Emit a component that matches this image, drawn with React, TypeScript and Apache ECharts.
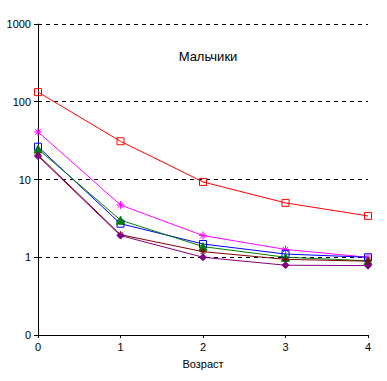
import React, { useEffect, useRef } from "react";
import * as echarts from "echarts";

const ages = [0, 1, 2, 3, 4];
const redValues = [133, 31, 9.3, 5.0, 3.4];
const magentaValues = [41, 4.7, 1.9, 1.26, 1.0];
const blueValues = [26.4, 2.7, 1.48, 1.1, 1.0];
const greenValues = [24.7, 3.0, 1.37, 1.0, 0.9];
const maroonValues = [20.7, 1.95, 1.18, 0.94, 0.89];
const purpleValues = [20, 1.9, 1.0, 0.79, 0.78];
const yTickLabels: Record<string, string> = { "0.1": "0", "1": "1", "10": "10", "100": "100", "1000": "1000" };
const title = "Мальчики";
const xName = "Возраст";

const asterisk = "path://M5,0L5,10M0,5L10,5M1.5,1.5L8.5,8.5M8.5,1.5L1.5,8.5";

function mk(name: string, values: number[], color: string, symbol: string, size: number, filled: boolean) {
  return {
    name,
    type: "line",
    data: ages.map((a, i) => [a, values[i]]),
    symbol,
    symbolSize: size,
    showSymbol: true,
    lineStyle: { color, width: 1 },
    itemStyle: filled
      ? { color, borderColor: color, borderWidth: 1 }
      : { color: symbol.startsWith("path") ? color : "rgba(0,0,0,0)", borderColor: color, borderWidth: 1 },
    emphasis: { disabled: true },
  };
}

export default function App() {
  const ref = useRef<HTMLDivElement>(null);
  useEffect(() => {
    const chart = echarts.init(ref.current!, null, { renderer: "svg" });
    chart.setOption({
      animation: false,
      backgroundColor: "#ffffff",
      textStyle: { fontFamily: "Liberation Sans, Arial, sans-serif" },
      grid: { left: 38, top: 24, right: 19, bottom: 46, containLabel: false },
      title: {
        text: title,
        left: 203,
        top: 45,
        textAlign: "center",
        textStyle: { fontSize: 13, fontWeight: "normal", color: "#000", fontFamily: "Liberation Sans, Arial, sans-serif" },
      },
      xAxis: {
        type: "value",
        min: 0,
        max: 4,
        interval: 1,
        name: xName,
        nameLocation: "middle",
        nameGap: 23,
        nameTextStyle: { fontSize: 11, color: "#000" },
        axisLine: { lineStyle: { color: "#000", width: 1 } },
        axisTick: { show: true, length: 3, lineStyle: { color: "#000" } },
        axisLabel: { fontSize: 11, color: "#000", margin: 6 },
        splitLine: { show: false },
      },
      yAxis: {
        type: "log",
        logBase: 10,
        min: 0.1,
        max: 1000,
        axisLine: { show: true, lineStyle: { color: "#000", width: 1 } },
        axisTick: { show: true, length: 4, lineStyle: { color: "#000" } },
        axisLabel: {
          fontSize: 11,
          color: "#000",
          margin: 7,
          formatter: (v: number) => {
            const k = String(Math.round(v * 10) / 10);
            return yTickLabels[k] ?? k;
          },
        },
        splitLine: { show: true, lineStyle: { color: "#000", type: [4, 4], width: 1 } },
      },
      series: [
        mk("s1", redValues, "#ff0000", "rect", 7, false),
        mk("s2", magentaValues, "#ff00ff", asterisk, 8, false),
        mk("s3", blueValues, "#0000ff", "rect", 7, false),
        mk("s4", greenValues, "#008000", "triangle", 8, true),
        mk("s5", maroonValues, "#800000", asterisk, 7, false),
        mk("s6", purpleValues, "#800080", "diamond", 7, true),
      ],
    });
    return () => chart.dispose();
  }, []);
  return <div ref={ref} style={{ width: 387, height: 381, position: "absolute", left: 0, top: 0 }} />;
}
